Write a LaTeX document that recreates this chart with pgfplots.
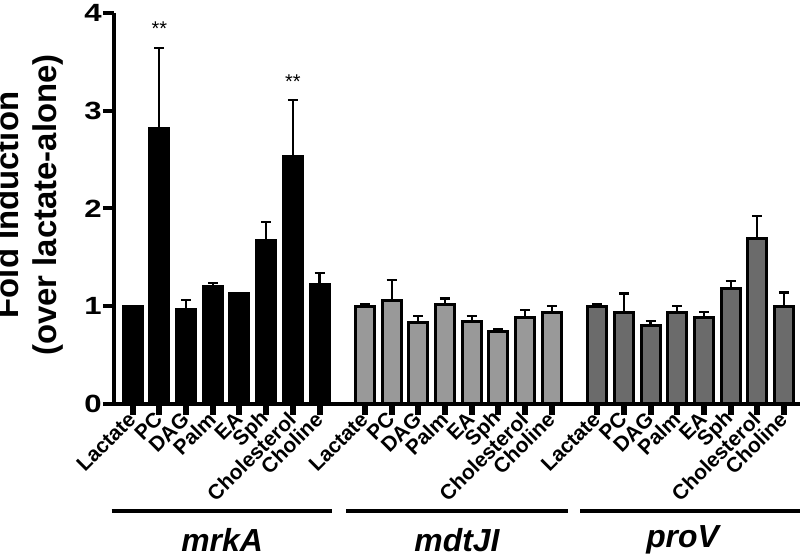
\documentclass[border=0pt]{standalone}
\usepackage{fontspec}
\setmainfont{Liberation Sans}
\usepackage{graphicx}
\usepackage{pgfplots}
\pgfplotsset{compat=1.18}
\usepackage{pgfplotstable}

\definecolor{mdtcol}{HTML}{999999}
\definecolor{procol}{HTML}{6B6B6B}

\pgfplotstableread{
x y e
0 1.00 0
1 2.82 0.82
2 0.97 0.09
3 1.20 0.04
4 1.13 0
5 1.67 0.19
6 2.53 0.58
7 1.225 0.115
}\mrkA

\pgfplotstableread{
x y e
8.7 1.00 0.02
9.7 1.06 0.21
10.7 0.83 0.07
11.7 1.02 0.06
12.7 0.84 0.06
13.7 0.74 0.03
14.7 0.89 0.075
15.7 0.94 0.06
}\mdtJI

\pgfplotstableread{
x y e
17.4 1.00 0.02
18.4 0.94 0.19
19.4 0.80 0.05
20.4 0.935 0.065
21.4 0.88 0.06
22.4 1.18 0.08
23.4 1.69 0.23
24.4 1.00 0.14
}\proV

\begin{document}
\begin{tikzpicture}
\useasboundingbox (0,0) rectangle (800bp,558bp);
\begin{axis}[
  at={(114bp,154bp)}, anchor=south west,
  scale only axis, width=686bp, height=391bp,
  xmin=-0.7, xmax=25, ymin=0, ymax=4,
  clip=false,
  axis x line=bottom, axis y line=left,
  axis line style={line width=4.5bp, -},
  ytick={0,1,2,3,4},
  xtick={0,1,2,3,4,5,6,7,8.7,9.7,10.7,11.7,12.7,13.7,14.7,15.7,17.4,18.4,19.4,20.4,21.4,22.4,23.4,24.4},
  xticklabels={Lactate,PC,DAG,Palm,EA,Sph,Cholesterol,Choline,Lactate,PC,DAG,Palm,EA,Sph,Cholesterol,Choline,Lactate,PC,DAG,Palm,EA,Sph,Cholesterol,Choline},
  tick align=outside, major tick length=11bp,
  x tick style={line width=6bp, black},
  y tick style={line width=4bp, black},
  /pgf/number format/assume math mode=true,
  yticklabel={\scalebox{1.25}[1]{\pgfmathprintnumber{\tick}}},
  yticklabel style={font=\fontsize{25}{25}\selectfont\bfseries, inner sep=1bp},
  xticklabel style={font=\fontsize{21}{21}\selectfont\bfseries, rotate=45, anchor=east, inner sep=1bp},
  ybar, bar width=19bp, bar shift=0pt,
  error bars/y dir=plus, error bars/y explicit,
  error bars/error bar style={line width=2.2bp, black},
  error bars/error mark options={line width=2.2bp, black, mark size=5bp, rotate=90},
]
\addplot[fill=black, draw=black, line width=3bp] table[x=x, y=y, y error=e]{\mrkA};
\addplot[fill=mdtcol, draw=black, line width=3bp] table[x=x, y=y, y error=e]{\mdtJI};
\addplot[fill=procol, draw=black, line width=3bp] table[x=x, y=y, y error=e]{\proV};

\node[font=\fontsize{20}{20}\selectfont] at (axis cs:1,3.84) {**};
\node[font=\fontsize{20}{20}\selectfont] at (axis cs:6,3.30) {**};

\draw[line width=4bp] (axis cs:-0.79,-1.095) -- (axis cs:7.48,-1.095);
\draw[line width=4bp] (axis cs:8.01,-1.095) -- (axis cs:16.29,-1.095);
\draw[line width=4bp] (axis cs:16.76,-1.095) -- (axis cs:25.0,-1.095);
\node[font=\fontsize{32}{32}\selectfont\bfseries\itshape] at (axis cs:3.35,-1.39) {mrkA};
\node[font=\fontsize{32}{32}\selectfont\bfseries\itshape] at (axis cs:12.15,-1.39) {mdtJI};
\node[font=\fontsize{32}{32}\selectfont\bfseries\itshape] at (axis cs:20.6,-1.39) {proV};
\end{axis}
\node[rotate=90, align=center, inner sep=0pt, font=\fontsize{33}{39}\selectfont\bfseries] at (29bp,353bp) {Fold Induction\\(over lactate-alone)};
\end{tikzpicture}
\end{document}
